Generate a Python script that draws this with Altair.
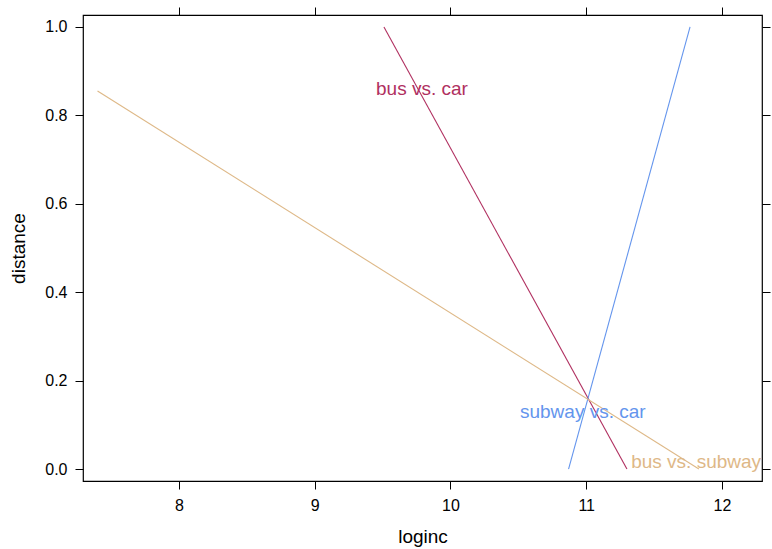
import altair as alt
import pandas as pd

# Three pairwise comparisons, each drawn as a straight segment
groups = ["bus vs. car", "subway vs. car", "bus vs. subway"]
colors = ["#B03060", "#6495ED", "#DEB887"]
x_start = [9.51, 10.87, 7.40]
y_start = [1.0, 0.0, 0.855]
x_end = [11.30, 11.765, 11.83]
y_end = [0.0, 1.0, 0.0]

# Direct labels placed beside each segment
label_x = [9.79, 10.975, 11.81]
label_y = [0.86, 0.129, 0.016]

x_ticks = [8, 9, 10, 11, 12]
y_ticks = [0.0, 0.2, 0.4, 0.6, 0.8, 1.0]

rows = []
for g, xs, ys, xe, ye in zip(groups, x_start, y_start, x_end, y_end):
    rows.append({"group": g, "loginc": xs, "distance": ys})
    rows.append({"group": g, "loginc": xe, "distance": ye})
lines_df = pd.DataFrame(rows)
labels_df = pd.DataFrame({"group": groups, "loginc": label_x, "distance": label_y})

x_scale = alt.Scale(domain=[7.293, 12.295], nice=False, zero=False)
y_scale = alt.Scale(domain=[-0.027, 1.027], nice=False, zero=False)
color_scale = alt.Scale(domain=groups, range=colors)

tick_only = dict(tickSize=8, tickColor="#000000", tickWidth=1, domain=False, grid=False)
text_style = dict(labelFont="Liberation Sans", labelFontSize=16, labelColor="#000000",
                  titleFont="Liberation Sans", titleFontSize=19, titleFontWeight="normal",
                  titleColor="#000000")

x_bottom = alt.Axis(values=x_ticks, orient="bottom", title="loginc", labelPadding=8,
                    titlePadding=14, format="d", **tick_only, **text_style)
y_left = alt.Axis(values=y_ticks, orient="left", title="distance", labelPadding=8,
                  titlePadding=16, format=".1f", labelAngle=0, **tick_only, **text_style)
x_top = alt.Axis(values=x_ticks, orient="top", title=None, labels=False, **tick_only)
y_right = alt.Axis(values=y_ticks, orient="right", title=None, labels=False, **tick_only)

segments = alt.Chart(lines_df).mark_line(strokeWidth=1.1, clip=True).encode(
    x=alt.X("loginc:Q", scale=x_scale, axis=x_bottom),
    y=alt.Y("distance:Q", scale=y_scale, axis=y_left),
    color=alt.Color("group:N", scale=color_scale, legend=None),
    detail="group:N",
)

labels = alt.Chart(labels_df).mark_text(
    font="Liberation Sans", fontSize=19, align="center", baseline="middle", clip=True
).encode(
    x=alt.X("loginc:Q", scale=x_scale, axis=x_top),
    y=alt.Y("distance:Q", scale=y_scale, axis=y_right),
    text="group:N",
    color=alt.Color("group:N", scale=color_scale, legend=None),
)

chart = (
    alt.layer(segments, labels)
    .resolve_axis(x="independent", y="independent")
    .properties(
        width=679,
        height=466,
        autosize=alt.AutoSizeParams(type="none"),
        padding={"left": 83, "top": 15, "right": 10, "bottom": 68},
        background="white",
    )
    .configure_view(stroke="#000000", strokeWidth=1.2)
)

chart.save("out.html", embed_options={"renderer": "svg", "actions": False})
